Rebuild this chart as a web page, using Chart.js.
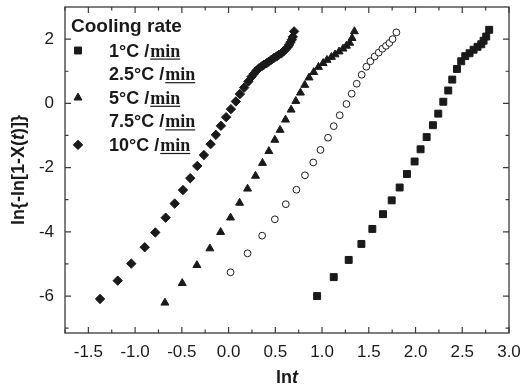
<!DOCTYPE html>
<html><head><meta charset="utf-8">
<script src="https://cdn.jsdelivr.net/npm/chart.js@4"></script>
<style>html,body{margin:0;padding:0;background:#fff;}</style>
</head><body>
<canvas id="c" width="528" height="392"></canvas>
<script>
// ---- data ----
const xTickValues = [-1.5, -1.0, -0.5, 0.0, 0.5, 1.0, 1.5, 2.0, 2.5, 3.0];
const xMinorValues = [-1.75, -1.25, -0.75, -0.25, 0.25, 0.75, 1.25, 1.75, 2.25, 2.75];
const yTickValues = [-6, -4, -2, 0, 2];
const yMinorValues = [-7, -5, -3, -1, 1];
const coolingRates = ['1', '2.5', '5', '7.5', '10'];

const rate1X = [0.947,1.125,1.285,1.421,1.538,1.652,1.745,1.830,1.908,1.990,2.054,2.119,2.186,2.243,2.297,2.350,2.393,2.443,2.489,2.532,2.578,2.621,2.663,2.703,2.728,2.756,2.788];
const rate1Y = [-6.00,-5.41,-4.875,-4.377,-3.91,-3.45,-3.02,-2.62,-2.20,-1.81,-1.43,-1.05,-0.68,-0.32,0.05,0.40,0.74,1.07,1.31,1.47,1.56,1.67,1.76,1.84,1.95,2.08,2.29];

const rate25X = [0.021,0.203,0.359,0.495,0.612,0.726,0.817,0.906,0.983,1.064,1.125,1.189,1.261,1.317,1.371,1.424,1.474,1.517,1.563,1.606,1.645,1.684,1.720,1.755,1.795];
const rate25Y = [-5.26,-4.67,-4.12,-3.61,-3.14,-2.69,-2.24,-1.84,-1.45,-1.07,-0.71,-0.37,-0.02,0.30,0.61,0.89,1.14,1.31,1.46,1.58,1.70,1.79,1.88,2.00,2.21];

const rate5X = [-0.681,-0.496,-0.339,-0.200,-0.085,0.021,0.118,0.203,0.288,0.363,0.431,0.495,0.551,0.609,0.669,0.719,0.769,0.815,0.861,0.911,0.962,1.011,1.053,1.100,1.139,1.182,1.224,1.261,1.296,1.321,1.346];
const rate5Y = [-6.21,-5.60,-5.04,-4.52,-4.01,-3.56,-3.10,-2.66,-2.26,-1.86,-1.49,-1.14,-0.83,-0.51,-0.20,0.07,0.33,0.57,0.80,0.97,1.13,1.25,1.35,1.44,1.52,1.61,1.70,1.79,1.88,2.03,2.24];

const rate75X = [];
const rate75Y = [];

const rate10X = [-1.375,-1.186,-1.041,-0.897,-0.784,-0.673,-0.577,-0.488,-0.410,-0.335,-0.264,-0.192,-0.136,-0.082,-0.026,0.025,0.078,0.121,0.167,0.212,0.246,0.270,0.299,0.324,0.353,0.377,0.406,0.431,0.459,0.484,0.513,0.537,0.566,0.591,0.612,0.634,0.647,0.662,0.676,0.687,0.701];
const rate10Y = [-6.09,-5.52,-4.99,-4.48,-4.02,-3.56,-3.12,-2.70,-2.33,-1.95,-1.61,-1.27,-0.98,-0.70,-0.43,-0.18,0.06,0.29,0.49,0.68,0.83,0.92,1.02,1.09,1.15,1.20,1.25,1.30,1.36,1.41,1.46,1.51,1.56,1.63,1.69,1.76,1.82,1.90,1.98,2.07,2.24];

// ---- build ----
const pts = (xs, ys) => xs.map((x, i) => ({x: x, y: ys[i]}));
const INK = '#1a1a1a';
const SANS = '"Liberation Sans", Arial, Helvetica, sans-serif';
const SERIF = '"Liberation Serif", "Times New Roman", serif';

const styles = [
  {pointStyle: 'rect', pointRadius: 4.9, backgroundColor: INK, borderColor: INK, borderWidth: 1, legend: true},
  {pointStyle: 'circle', pointRadius: 3.4, backgroundColor: '#fff', borderColor: INK, borderWidth: 1, legend: false},
  {pointStyle: 'triangle', pointRadius: 4.6, backgroundColor: INK, borderColor: INK, borderWidth: 1, legend: true},
  {pointStyle: 'circle', pointRadius: 3.4, backgroundColor: '#fff', borderColor: INK, borderWidth: 1, legend: false},
  {pointStyle: 'rectRot', pointRadius: 4.7, backgroundColor: INK, borderColor: INK, borderWidth: 1, legend: true}
];
const seriesData = [pts(rate1X, rate1Y), pts(rate25X, rate25Y), pts(rate5X, rate5Y), pts(rate75X, rate75Y), pts(rate10X, rate10Y)];

const datasets = coolingRates.map((r, i) => Object.assign({
  label: r + '°C /min',
  data: seriesData[i],
  showLine: false
}, styles[i]));

function drawSegments(ctx, segs, cx, cy, size) {
  let widths = segs.map(s => {
    ctx.font = (s.italic ? 'italic ' : '') + 'bold ' + size + 'px ' + SANS;
    return ctx.measureText(s.t).width;
  });
  const total = widths.reduce((a, b) => a + b, 0);
  let x = cx - total / 2;
  ctx.textBaseline = 'middle';
  ctx.textAlign = 'left';
  segs.forEach((s, i) => {
    ctx.font = (s.italic ? 'italic ' : '') + 'bold ' + size + 'px ' + SANS;
    ctx.fillText(s.t, x, cy);
    x += widths[i];
  });
}

const framePlugin = {
  id: 'frame',
  afterDatasetsDraw(chart) {
    const ctx = chart.ctx;
    const a = chart.chartArea;
    const xs = chart.scales.x, ys = chart.scales.y;
    ctx.save();
    ctx.strokeStyle = '#3a3a3a';
    ctx.lineWidth = 1.3;
    ctx.strokeRect(a.left, a.top, a.right - a.left, a.bottom - a.top);
    ctx.lineWidth = 1.2;
    ctx.beginPath();
    const tick = (vals, len) => {
      vals.forEach(v => {
        const px = xs.getPixelForValue(v);
        ctx.moveTo(px, a.bottom); ctx.lineTo(px, a.bottom - len);
        ctx.moveTo(px, a.top); ctx.lineTo(px, a.top + len);
      });
    };
    const ytick = (vals, len) => {
      vals.forEach(v => {
        const py = ys.getPixelForValue(v);
        ctx.moveTo(a.left, py); ctx.lineTo(a.left + len, py);
        ctx.moveTo(a.right, py); ctx.lineTo(a.right - len, py);
      });
    };
    tick(xTickValues, 6); tick(xMinorValues, 3.5);
    ytick(yTickValues, 6); ytick(yMinorValues, 3.5);
    ctx.stroke();

    // legend
    ctx.fillStyle = INK;
    ctx.textAlign = 'left';
    ctx.textBaseline = 'alphabetic';
    ctx.font = 'bold 19px ' + SANS;
    ctx.fillText('Cooling rate', 71, 32);
    chart.data.datasets.forEach((ds, i) => {
      const base = 56.5 + i * 23.6;
      if (ds.legend) {
        ctx.fillStyle = ds.backgroundColor;
        ctx.strokeStyle = ds.borderColor;
        ctx.lineWidth = ds.borderWidth;
        Chart.helpers.drawPoint(ctx, {pointStyle: ds.pointStyle, radius: ds.pointRadius, borderWidth: ds.borderWidth, rotation: 0}, 78, base - 6);
      }
      ctx.fillStyle = INK;
      ctx.font = 'bold 18px ' + SANS;
      const pre = coolingRates[i] + '°C /';
      ctx.fillText(pre, 109, base);
      const w1 = ctx.measureText(pre).width;
      ctx.font = 'bold 18px ' + SERIF;
      ctx.fillText('min', 109 + w1 + 1, base);
      const w2 = ctx.measureText('min').width;
      ctx.fillRect(109 + w1 + 1, base + 2, w2, 1.2);
    });

    // axis titles
    ctx.fillStyle = INK;
    drawSegments(ctx, [{t: 'ln'}, {t: 't', italic: true}], (a.left + a.right) / 2, 378, 18);
    ctx.save();
    ctx.translate(19, (a.top + a.bottom) / 2);
    ctx.rotate(-Math.PI / 2);
    drawSegments(ctx, [{t: 'ln{-ln[1-X('}, {t: 't', italic: true}, {t: ')]}'}], 0, 0, 18);
    ctx.restore();
    ctx.restore();
  }
};

new Chart(document.getElementById('c'), {
  type: 'scatter',
  data: {datasets: datasets},
  options: {
    responsive: false,
    devicePixelRatio: 1,
    animation: false,
    layout: {padding: {top: 7, right: 19, left: 0, bottom: 0}},
    plugins: {legend: {display: false}, tooltip: {enabled: false}},
    scales: {
      x: {
        type: 'linear', min: -1.75, max: 3.0,
        afterBuildTicks: s => { s.ticks = xTickValues.map(v => ({value: v})); },
        afterFit: s => { s.height = 59; s.paddingLeft = 0; s.paddingRight = 0; },
        grid: {display: false, drawTicks: false},
        border: {display: false},
        ticks: {color: INK, padding: 9, font: {family: SANS, size: 17}, callback: v => Number(v).toFixed(1)}
      },
      y: {
        type: 'linear', min: -7.15, max: 3.0,
        afterBuildTicks: s => { s.ticks = yTickValues.map(v => ({value: v})); },
        afterFit: s => { s.width = 65; s.paddingTop = 0; s.paddingBottom = 0; },
        grid: {display: false, drawTicks: false},
        border: {display: false},
        ticks: {color: INK, padding: 11, font: {family: SANS, size: 17}, callback: v => String(v)}
      }
    }
  },
  plugins: [framePlugin]
});
</script>
</body></html>
